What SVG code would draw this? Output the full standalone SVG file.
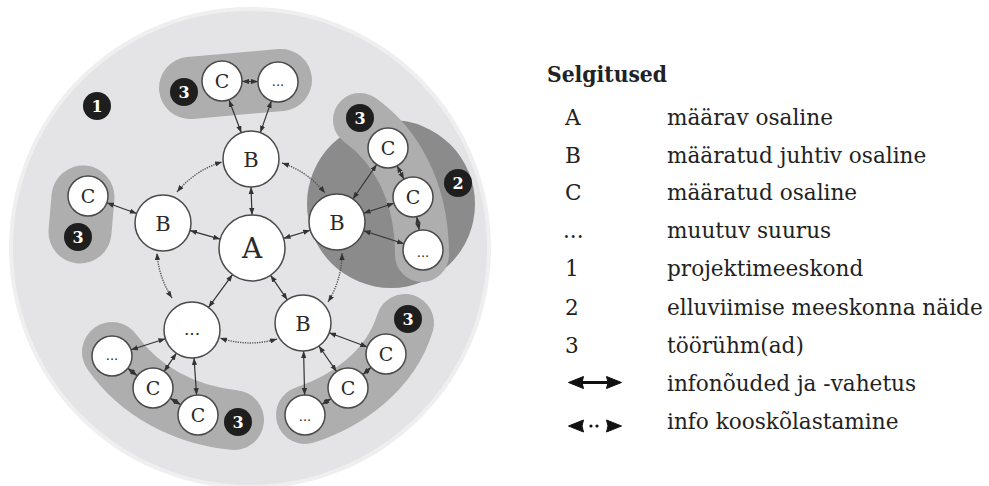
<svg xmlns="http://www.w3.org/2000/svg" width="989" height="486" viewBox="0 0 989 486">
  <style>
    .node { fill: #ffffff; stroke: #4a4a4a; stroke-width: 1.5; }
    .lbl { font-family: "DejaVu Serif", "Liberation Serif", serif; fill: #2a2a2a; text-anchor: middle; }
    .badge { fill: #1e1e1e; }
    .num { font-family: "DejaVu Serif", "Liberation Serif", serif; font-weight: bold; font-size: 16px; fill: #ffffff; text-anchor: middle; }
    .blob { fill: none; stroke: #aeaeae; stroke-linecap: round; }
    .solid { fill: none; stroke: #333333; stroke-width: 1.2; marker-start: url(#ah); marker-end: url(#ah); }
    .dotted { fill: none; stroke: #555555; stroke-width: 1.4; stroke-dasharray: 1.3 1.1; marker-start: url(#ah); marker-end: url(#ah); }
    .leg { font-family: "DejaVu Serif", "Liberation Serif", serif; font-size: 21.6px; fill: #222222; }
    .head { fill: #111111; stroke: #111111; stroke-width: 1; stroke-linejoin: round; }
  </style>
  <defs>
    <marker id="ah" viewBox="0 0 8 6" refX="8" refY="3" markerWidth="7" markerHeight="5.5" markerUnits="userSpaceOnUse" orient="auto-start-reverse">
      <path d="M0,0 L8,3 L0,6 z" fill="#333333"/>
    </marker>
  </defs>

  <rect width="989" height="486" fill="#ffffff"/>

  <!-- project team area -->
  <circle cx="250" cy="248" r="239" fill="#e4e4e6" stroke="#efefef" stroke-width="4"/>

  <!-- implementation team example -->
  <circle cx="391" cy="204" r="84" fill="#8b8b8b"/>

  <!-- working groups -->
  <path class="blob" d="M190 88 L281 80" stroke-width="62"/>
  <path class="blob" d="M83 197 L80 232" stroke-width="63"/>
  <path class="blob" d="M112 352 C140 392 185 415 234 420" stroke-width="60"/>
  <path class="blob" d="M305 415 C345 402 390 372 405 323" stroke-width="58"/>
  <path class="blob" d="M360 120 C395 145 422 190 422 255" stroke="#b5b5b5" stroke-width="54"/>

  <!-- connectors -->
  <g id="connectors">
    <path class="solid" d="M252 215 L251 187"/>
    <path class="solid" d="M220.2 239.1 L190 230.6"/>
    <path class="solid" d="M283.5 238.4 L310.2 230.2"/>
    <path class="solid" d="M270.6 275.3 L287.3 299.8"/>
    <path class="solid" d="M232.5 274.6 L208.5 307.4"/>
    <path class="solid" d="M229 100 L241.3 132.8"/>
    <path class="solid" d="M271.4 100.9 L260.3 132.6"/>
    <path class="solid" d="M242 81.4 L258 81.6"/>
    <path class="solid" d="M106.8 202.8 L136.7 213.5"/>
    <path class="solid" d="M352.9 199 L376.7 164.5"/>
    <path class="solid" d="M363.6 213.3 L394 203.3"/>
    <path class="solid" d="M363.6 230.7 L404 243.8"/>
    <path class="solid" d="M397.1 165.8 L403.9 179.2"/>
    <path class="solid" d="M416.7 216.7 L419.3 230.3"/>
    <path class="solid" d="M165.4 338.7 L131 349.8"/>
    <path class="solid" d="M176.4 353.2 L164.2 371.4"/>
    <path class="solid" d="M194 358 L196.6 395"/>
    <path class="solid" d="M127.8 368.3 L137.2 375.7"/>
    <path class="solid" d="M170.1 398.3 L180.9 404.7"/>
    <path class="solid" d="M329.2 332.8 L367.3 347"/>
    <path class="solid" d="M318.9 346 L336.6 371.6"/>
    <path class="solid" d="M303.6 351 L304.6 395"/>
    <path class="solid" d="M371.1 367.3 L362.9 374.7"/>
    <path class="solid" d="M331.1 398.6 L321.9 404.4"/>
    <path class="dotted" d="M177 192 A92 92 0 0 1 222 162"/>
    <path class="dotted" d="M282 163 A92 92 0 0 1 325 193"/>
    <path class="dotted" d="M342 253 A92 92 0 0 1 328 302"/>
    <path class="dotted" d="M277 339 A94 94 0 0 1 220 338"/>
    <path class="dotted" d="M172 298 A94 94 0 0 1 157 253"/>
  </g>

  <!-- nodes -->
  <g id="node-A"><circle class="node" cx="252" cy="248" r="33"/><text class="lbl" x="252" y="258" font-size="28">A</text></g>
  <g id="node-B-top"><circle class="node" cx="251" cy="159" r="28"/><text class="lbl" x="251" y="167" font-size="21">B</text></g>
  <g id="node-B-left"><circle class="node" cx="163" cy="223" r="28"/><text class="lbl" x="163" y="231" font-size="21">B</text></g>
  <g id="node-B-right"><circle class="node" cx="337" cy="222" r="28"/><text class="lbl" x="337" y="230" font-size="21">B</text></g>
  <g id="node-B-bottom"><circle class="node" cx="303" cy="323" r="28"/><text class="lbl" x="303" y="331" font-size="21">B</text></g>
  <g id="node-var-bottom"><circle class="node" cx="192" cy="330" r="28"/><text class="lbl" x="192" y="335" font-size="17">...</text></g>

  <g id="node-C-top"><circle class="node" cx="222" cy="81" r="20"/><text class="lbl" x="222" y="88" font-size="19">C</text></g>
  <g id="node-var-top"><circle class="node" cx="278" cy="82" r="20"/><text class="lbl" x="278" y="86" font-size="13">...</text></g>
  <g id="node-C-left"><circle class="node" cx="88" cy="196" r="20"/><text class="lbl" x="88" y="203" font-size="19">C</text></g>
  <g id="node-C-right1"><circle class="node" cx="388" cy="148" r="20"/><text class="lbl" x="388" y="155" font-size="19">C</text></g>
  <g id="node-C-right2"><circle class="node" cx="413" cy="197" r="20"/><text class="lbl" x="413" y="204" font-size="19">C</text></g>
  <g id="node-var-right"><circle class="node" cx="423" cy="250" r="20"/><text class="lbl" x="423" y="257" font-size="13">...</text></g>
  <g id="node-var-bl"><circle class="node" cx="112" cy="356" r="20"/><text class="lbl" x="112" y="360" font-size="13">...</text></g>
  <g id="node-C-bl1"><circle class="node" cx="153" cy="388" r="20"/><text class="lbl" x="153" y="395" font-size="19">C</text></g>
  <g id="node-C-bl2"><circle class="node" cx="198" cy="415" r="20"/><text class="lbl" x="198" y="422" font-size="19">C</text></g>
  <g id="node-C-br1"><circle class="node" cx="386" cy="354" r="20"/><text class="lbl" x="386" y="361" font-size="19">C</text></g>
  <g id="node-C-br2"><circle class="node" cx="348" cy="388" r="20"/><text class="lbl" x="348" y="395" font-size="19">C</text></g>
  <g id="node-var-br"><circle class="node" cx="305" cy="415" r="20"/><text class="lbl" x="305" y="421" font-size="13">...</text></g>

  <!-- numbered badges -->
  <g id="badge-1"><circle class="badge" cx="97" cy="106" r="14"/><text class="num" x="97" y="112">1</text></g>
  <g id="badge-2"><circle class="badge" cx="458" cy="183" r="14"/><text class="num" x="458" y="189">2</text></g>
  <g id="badge-3-top"><circle class="badge" cx="184" cy="92" r="14"/><text class="num" x="184" y="98">3</text></g>
  <g id="badge-3-left"><circle class="badge" cx="78" cy="237" r="14"/><text class="num" x="78" y="243">3</text></g>
  <g id="badge-3-right"><circle class="badge" cx="360" cy="118" r="14"/><text class="num" x="360" y="124">3</text></g>
  <g id="badge-3-bl"><circle class="badge" cx="238" cy="422" r="14"/><text class="num" x="238" y="428">3</text></g>
  <g id="badge-3-br"><circle class="badge" cx="408" cy="319" r="14"/><text class="num" x="408" y="325">3</text></g>

  <!-- legend -->
  <g id="legend">
    <text class="leg" x="547" y="82" font-weight="bold" font-size="21" textLength="120" lengthAdjust="spacingAndGlyphs">Selgitused</text>
    <text class="leg" x="565" y="125">A</text>
    <text class="leg" x="667" y="125">määrav osaline</text>
    <text class="leg" x="565" y="163">B</text>
    <text class="leg" x="667" y="163">määratud juhtiv osaline</text>
    <text class="leg" x="565" y="200">C</text>
    <text class="leg" x="667" y="200">määratud osaline</text>
    <text class="leg" x="563" y="238" font-size="17">...</text>
    <text class="leg" x="667" y="238">muutuv suurus</text>
    <text class="leg" x="565" y="276">1</text>
    <text class="leg" x="667" y="276">projektimeeskond</text>
    <text class="leg" x="565" y="315">2</text>
    <text class="leg" x="667" y="315">elluviimise meeskonna näide</text>
    <text class="leg" x="565" y="353">3</text>
    <text class="leg" x="667" y="353">töörühm(ad)</text>

    <!-- solid double arrow -->
    <path d="M578 382.5 L612 382.5" stroke="#111111" stroke-width="3"/>
    <path class="head" d="M568.5 382.5 L583.5 376.5 L582 382.5 L583.5 388.5 z"/>
    <path class="head" d="M621.5 382.5 L606.5 376.5 L608 382.5 L606.5 388.5 z"/>
    <text class="leg" x="667" y="391">infonõuded ja -vahetus</text>

    <!-- dotted double arrow -->
    <path class="head" d="M568.5 426 L583.5 420 L582 426 L583.5 432 z"/>
    <circle cx="591" cy="426" r="1.6" fill="#111111"/>
    <circle cx="597" cy="426" r="1.6" fill="#111111"/>
    <path class="head" d="M621.5 426 L606.5 420 L608 426 L606.5 432 z"/>
    <text class="leg" x="667" y="429">info kooskõlastamine</text>
  </g>
</svg>
